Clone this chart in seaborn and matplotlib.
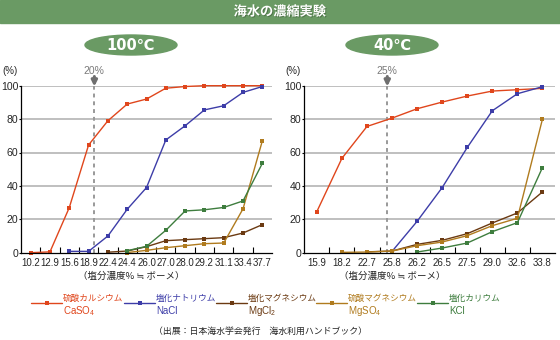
import numpy as np
import pandas as pd
import matplotlib
matplotlib.use("Agg")
import matplotlib.pyplot as plt
import seaborn as sns
from matplotlib.patches import Rectangle, Ellipse
import matplotlib.patheffects as pe
from matplotlib.lines import Line2D

nan = np.nan

# ---------------- data ----------------
left_labels = ['10.2', '12.9', '15.6', '18.9', '22.4', '24.4', '26.0', '27.0',
               '28.0', '29.2', '31.1', '33.4', '37.7']
caso4_100 = [0, 0.5, 27, 64.5, 79, 89, 92, 98.5, 99.5, 100, 100, 100, 100]
nacl_100 = [nan, nan, 0.8, 0.8, 10, 26, 39, 67.5, 76, 85.5, 88, 96, 99.5]
mgcl2_100 = [nan, nan, nan, nan, 0.3, 1.0, 3.6, 7.2, 7.8, 8.4, 9.0, 11.8, 16.8]
mgso4_100 = [nan, nan, nan, nan, nan, 0.1, 1.4, 3.0, 4.2, 5.4, 5.8, 26.3, 67]
kcl_100 = [nan, nan, nan, nan, nan, 1.2, 3.8, 13.4, 25, 25.7, 27.1, 31, 53.5]

right_labels = ['15.9', '18.2', '22.7', '25.8', '26.2', '26.5', '27.5', '29.0',
                '32.6', '33.8']
caso4_40 = [24.6, 56.5, 75.6, 80.6, 86.2, 90.2, 93.8, 96.8, 97.6, 98.4]
nacl_40 = [nan, nan, nan, 0.8, 18.8, 39, 63, 85, 95.2, 99.4]
mgcl2_40 = [nan, nan, 0.5, 1.0, 5.0, 7.4, 11.4, 17.8, 23.8, 36.4]
mgso4_40 = [nan, 0.2, 0.4, 1.0, 4.2, 6.4, 10.2, 16.2, 20.6, 80]
kcl_40 = [nan, nan, nan, nan, 0.4, 2.8, 5.8, 12.6, 18, 51]

series_names = ['CaSO4', 'NaCl', 'MgCl2', 'MgSO4', 'KCl']
jp_names = ['硫酸カルシウム', '塩化ナトリウム', '塩化マグネシウム', '硫酸マグネシウム', '塩化カリウム']
formulas = ['CaSO$_4$', 'NaCl', 'MgCl$_2$', 'MgSO$_4$', 'KCl']
colors = ['#e0461c', '#3d3da8', '#6b3a12', '#b07b1e', '#3e7d3e']

guide_left = ('20%', 3.3)
guide_right = ('25%', 2.81)
x_caption = '（塩分濃度% ≒ ボーメ）'
title = '海水の濃縮実験'
source = '（出展：日本海水学会発行　海水利用ハンドブック）'

# ---------------- style ----------------
sns.set_theme(style='white')
plt.rcParams['font.family'] = ['Noto Sans CJK JP', 'DejaVu Sans']
plt.rcParams['axes.unicode_minus'] = False
plt.rcParams['mathtext.fontset'] = 'custom'
plt.rcParams['mathtext.rm'] = 'Liberation Sans'
plt.rcParams['mathtext.it'] = 'Liberation Sans'

NUMFONT = ['Liberation Sans', 'DejaVu Sans']
NARROW = ['Liberation Sans Narrow', 'Liberation Sans', 'DejaVu Sans']
GREEN = '#6a9a64'
GRAY = '#7a7a7a'

fig = plt.figure(figsize=(5.6, 3.4), dpi=100)
W, H = 560.0, 340.0

# title band
fig.patches.append(Rectangle((0, 1 - 23 / H), 1, 23 / H, transform=fig.transFigure,
                             color=GREEN, zorder=0))
fig.text(0.5, 1 - 11.5 / H, title, ha='center', va='center', color='white',
         fontsize=9.5, fontweight='bold',
         path_effects=[pe.withSimplePatchShadow(offset=(0.7, -0.7),
                                                shadow_rgbFace='#3d5e38', alpha=0.6)])


def make_df(arrays):
    rows = []
    for name, arr in zip(series_names, arrays):
        for i, v in enumerate(arr):
            if not np.isnan(v):
                rows.append({'pos': i, 'val': v, 'series': name})
    return pd.DataFrame(rows)


def draw_panel(rect, labels, arrays, guide, temp, oval_cx):
    ax = fig.add_axes(rect)
    df = make_df(arrays)
    sns.lineplot(data=df, x='pos', y='val', hue='series', hue_order=series_names,
                 palette=dict(zip(series_names, colors)), marker='s', markersize=3.4,
                 markeredgewidth=0, linewidth=1.0, legend=False, sort=False,
                 estimator=None, ax=ax)
    for line in ax.lines:
        line.set_clip_on(False)
    n = len(labels)
    ax.set_xlim(-0.5, n - 0.5)
    ax.set_ylim(0, 100)
    ax.set_yticks([0, 20, 40, 60, 80, 100])
    ax.set_yticklabels(['0', '20', '40', '60', '80', '100'], fontsize=7.6,
                       family=NUMFONT)
    ax.set_xticks(range(n))
    ax.set_xticklabels(labels, fontsize=7, family=NARROW)
    ax.set_xticks(np.arange(0.5, n - 0.5, 1), minor=True)
    ax.tick_params(axis='x', which='major', length=0, pad=4)
    ax.tick_params(axis='x', which='minor', direction='in', length=4, width=0.8,
                   color='black', bottom=True)
    ax.tick_params(axis='y', which='major', length=1.5, width=0.8, pad=0.6,
                   color='black', left=True)
    ax.set_xlabel('')
    ax.set_ylabel('')
    for y in [20, 40, 60, 80, 100]:
        ax.axhline(y, color='#b4b4b4', lw=1.2, zorder=0)
    for s in ['top', 'right']:
        ax.spines[s].set_visible(False)
    for s in ['left', 'bottom']:
        ax.spines[s].set_color('black')
        ax.spines[s].set_linewidth(0.9)
    # guide line
    gtxt, gx = guide
    ax.axvline(gx, color='#999999', lw=1.4, linestyle=(0, (2, 2)), zorder=1)
    ax.annotate('', xy=(gx, 99.5), xytext=(gx, 105.5), xycoords='data',
                arrowprops=dict(arrowstyle='-|>', color='#6f6f6f', lw=2.2,
                                mutation_scale=8, shrinkA=0, shrinkB=0),
                annotation_clip=False)
    ax.text(gx, 109, gtxt, ha='center', va='center', color=GRAY, fontsize=7.5,
            family=NUMFONT, clip_on=False)
    # (%) label
    ax.text(-0.045, 1.09, '(%)', transform=ax.transAxes, ha='center', va='center',
            fontsize=7, family=NUMFONT)
    # x caption (centred under the temperature badge)
    fig.text(oval_cx / W, 1 - 276 / H, x_caption, ha='center', va='center',
             fontsize=6.8)
    # oval
    fig.patches.append(Ellipse((oval_cx / W, 1 - 45 / H), 92 / W, 20 / H,
                               transform=fig.transFigure, color=GREEN, zorder=0))
    fig.text(oval_cx / W, 1 - 45.5 / H, temp, ha='center', va='center',
             color='white', fontsize=10.5, fontweight='bold',
             family=['DejaVu Sans', 'Noto Sans CJK JP'])
    return ax


draw_panel([21 / W, 1 - 252.7 / H, 251 / W, 167 / H], left_labels,
           [caso4_100, nacl_100, mgcl2_100, mgso4_100, kcl_100], guide_left,
           '100℃', 131)
draw_panel([304.3 / W, 1 - 252.7 / H, 250.7 / W, 167 / H], right_labels,
           [caso4_40, nacl_40, mgcl2_40, mgso4_40, kcl_40], guide_right,
           '40℃', 392)

# legend
leg_x = [31, 124, 216, 316, 417]
leg_y = 303
for x0, jp, fm, c in zip(leg_x, jp_names, formulas, colors):
    fig.lines.append(Line2D([x0 / W, (x0 + 31) / W], [1 - leg_y / H] * 2,
                            transform=fig.transFigure, color=c, lw=1.0))
    fig.lines.append(Line2D([(x0 + 15.5) / W], [1 - leg_y / H],
                            transform=fig.transFigure, color=c, marker='s',
                            markersize=3.4, markeredgewidth=0, lw=0))
    fig.text((x0 + 32) / W, 1 - 298 / H, jp, ha='left', va='center', color=c,
             fontsize=6.2)
    fig.text((x0 + 32) / W, 1 - 311 / H, fm, ha='left', va='center', color=c,
             fontsize=7, family=NUMFONT)

fig.text(260 / W, 1 - 331 / H, source, ha='center', va='center', fontsize=6.4)

fig.savefig('out.png', dpi=100)
